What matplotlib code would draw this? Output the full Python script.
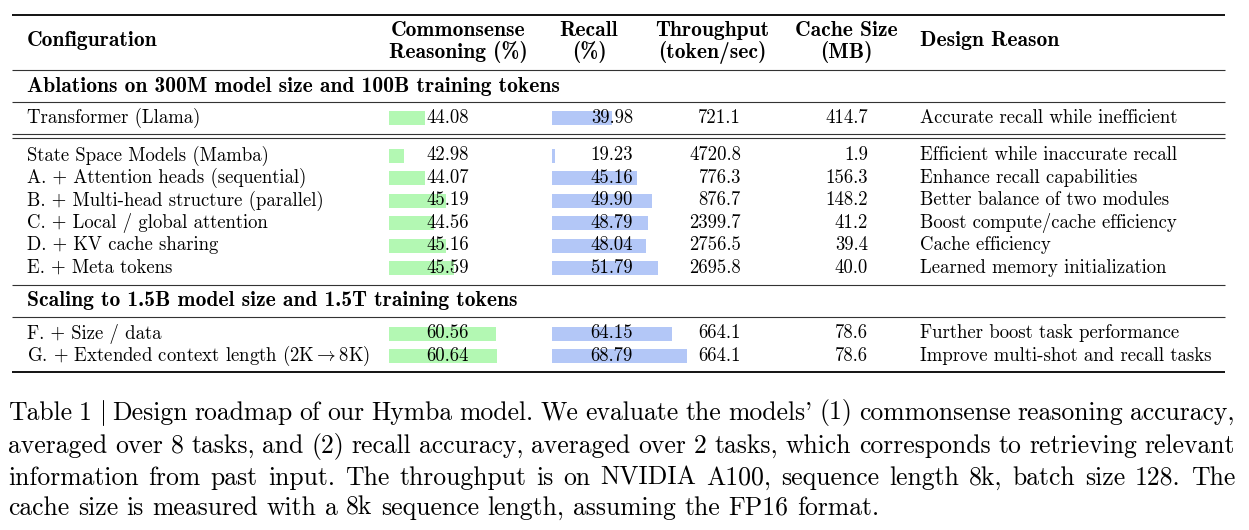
import matplotlib
matplotlib.use('Agg')
import matplotlib.pyplot as plt

plt.rcParams['mathtext.fontset'] = 'cm'

# table data
configs = ['Transformer (Llama)',
           'State Space Models (Mamba)',
           'A. + Attention heads (sequential)',
           'B. + Multi-head structure (parallel)',
           'C. + Local / global attention',
           'D. + KV cache sharing',
           'E. + Meta tokens',
           'F. + Size / data',
           r'G. + Extended context length (2K$\rightarrow$8K)']
commonsense = [44.08, 42.98, 44.07, 45.19, 44.56, 45.16, 45.59, 60.56, 60.64]
recall = [39.98, 19.23, 45.16, 49.90, 48.79, 48.04, 51.79, 64.15, 68.79]
throughput = ['721.1', '4720.8', '776.3', '876.7', '2399.7', '2756.5', '2695.8', '664.1', '664.1']
cache_size = ['414.7', '1.9', '156.3', '148.2', '41.2', '39.4', '40.0', '78.6', '78.6']
reasons = ['Accurate recall while inefficient',
           'Efficient while inaccurate recall',
           'Enhance recall capabilities',
           'Better balance of two modules',
           'Boost compute/cache efficiency',
           'Cache efficiency',
           'Learned memory initialization',
           'Further boost task performance',
           'Improve multi-shot and recall tasks']
sections = ['Ablations on 300M model size and 100B training tokens',
            'Scaling to 1.5B model size and 1.5T training tokens']
caption_lines = ["Table 1 $|$ Design roadmap of our Hymba model. We evaluate the models' (1) commonsense reasoning accuracy,",
                 "averaged over 8 tasks, and (2) recall accuracy, averaged over 2 tasks, which corresponds to retrieving relevant",
                 "information from past input. The throughput is on NVIDIA A100, sequence length 8k, batch size 128. The",
                 "cache size is measured with a 8k sequence length, assuming the FP16 format."]

W, H = 1249, 530
RM = 'cmr10'
BF = 'cmb10'
FS = 13.5
BFS = 15.5
GREEN = '#b3f8b3'
BLUE = '#b3c7f7'

fig = plt.figure(figsize=(W / 100, H / 100), dpi=100)
ax = fig.add_axes([0, 0, 1, 1])
ax.set_xlim(0, W)
ax.set_ylim(H, 0)
ax.axis('off')

# row centres (pixels from top)
row_y = [118, 155.5, 178, 200.5, 223, 245.5, 268, 333.5, 356]
groups = [[0], [1, 2, 3, 4, 5, 6], [7, 8]]
# per group bar baseline (value where bar starts)
green_base = [42.2, 42.2, 55.0]
blue_base = [21.0, 18.4, 26.3]
GX0, GX1, GPX = 389, 500, 19.2
BX0, BX1, BPX = 552, 700, 3.17

for g, idx in enumerate(groups):
    ys = [row_y[i] for i in idx]
    top, bot = min(ys) - 11.3, max(ys) + 11.3
    for x0, x1, ppu, base, vals, col in [(GX0, GX1, GPX, green_base[g], commonsense, GREEN),
                                          (BX0, BX1, BPX, blue_base[g], recall, BLUE)]:
        bax = fig.add_axes([x0 / W, 1 - bot / H, (x1 - x0) / W, (bot - top) / H])
        bax.set_xlim(base, base + (x1 - x0) / ppu)
        bax.set_ylim(bot, top)
        bax.axis('off')
        v = [vals[i] for i in idx]
        bax.barh(ys, [a - base for a in v], left=base, height=14, color=col, linewidth=0, zorder=1)

# rules
def rule(y, lw=0.8, color='#333333'):
    ax.plot([12, 1225], [y, y], color=color, lw=lw, solid_capstyle='butt')

rule(15, 1.3, 'black')
rule(70)
rule(102)
rule(134)
rule(138)
rule(285)
rule(317)
rule(372, 1.3, 'black')

# header
ax.text(27, 41, 'Configuration', fontfamily=BF, fontsize=BFS, va='center')
hdr = [(458, 'Commonsense', 'Reasoning (%)'), (589, 'Recall', '(%)'),
       (712, 'Throughput', '(token/sec)'), (846, 'Cache Size', '(MB)')]
for x, l1, l2 in hdr:
    ax.text(x, 30.5, l1, fontfamily=BF, fontsize=BFS, va='center', ha='center')
    ax.text(x, 52, l2, fontfamily=BF, fontsize=BFS, va='center', ha='center')
ax.text(920, 41, 'Design Reason', fontfamily=BF, fontsize=BFS, va='center')

ax.text(27, 86, sections[0], fontfamily=BF, fontsize=BFS, va='center')
ax.text(27, 301, sections[1], fontfamily=BF, fontsize=BFS, va='center')

for i, y in enumerate(row_y):
    ax.text(27, y, configs[i], fontfamily=RM, fontsize=FS, va='center', zorder=3)
    ax.text(469, y, f'{commonsense[i]:.2f}', fontfamily=RM, fontsize=FS, va='center', ha='right', zorder=3)
    ax.text(633, y, f'{recall[i]:.2f}', fontfamily=RM, fontsize=FS, va='center', ha='right', zorder=3)
    ax.text(741, y, throughput[i], fontfamily=RM, fontsize=FS, va='center', ha='right')
    ax.text(868, y, cache_size[i], fontfamily=RM, fontsize=FS, va='center', ha='right')
    ax.text(920, y, reasons[i], fontfamily=RM, fontsize=FS, va='center')

# bring the main axes above the bar axes so numbers sit on the bars
ax.set_zorder(5)
ax.patch.set_visible(False)

# justified caption, line breaks as in the paper
CFS = 18.5
renderer = fig.canvas.get_renderer()

def wwidth(w):
    t = ax.text(0, 0, w, fontfamily=RM, fontsize=CFS)
    bb = t.get_window_extent(renderer)
    t.remove()
    return bb.width

space = wwidth('a b') - wwidth('ab')
LX0, LX1 = 8, 1235
cap_y = [413, 446, 478, 508]
for li, line in enumerate(caption_lines):
    words = line.split(' ')
    widths = [wwidth(w) for w in words]
    if li < len(caption_lines) - 1:
        gap = (LX1 - LX0 - sum(widths)) / (len(words) - 1)
    else:
        gap = space
    x = LX0
    for w, wd in zip(words, widths):
        ax.text(x, cap_y[li], w, fontfamily=RM, fontsize=CFS, va='center')
        x += wd + gap

fig.savefig('out.png', dpi=100)
